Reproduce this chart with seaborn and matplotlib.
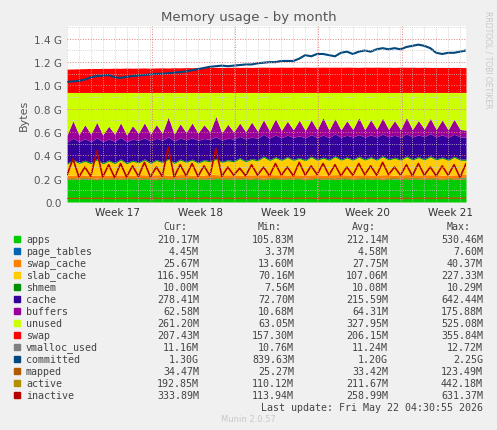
import numpy as np
import matplotlib
matplotlib.use('Agg')
import matplotlib.pyplot as plt
import seaborn as sns
from matplotlib.ticker import MultipleLocator, FuncFormatter

# half-day samples, values in MB (committed in GB)
apps = [200,198,205,196,202,199,204,197,201,200,203,198,206,199,202,201,204,196,200,203,205,199,202,198,
        207,200,203,201,205,197,202,200,204,199,206,201,203,198,205,200,202,199,204,197,203,201,206,200,
        202,198,205,199,203,200,204,197,202,201,206,199,203,200,205,198,202,201,204,210]
page_tables = [4.4,4.5,4.5,4.6,4.4,4.5,4.5,4.6,4.5,4.4,4.5,4.6,4.5,4.5,4.4,4.6,4.5,4.5,4.6,4.4,4.5,4.5,4.6,4.5,
               4.4,4.5,4.6,4.5,4.5,4.4,4.6,4.5,4.5,4.6,4.4,4.5,4.5,4.6,4.5,4.4,4.5,4.6,4.5,4.5,4.4,4.6,4.5,4.5,
               4.6,4.4,4.5,4.5,4.6,4.5,4.4,4.5,4.6,4.5,4.5,4.4,4.6,4.5,4.5,4.6,4.4,4.5,4.5,4.45]
swap_cache = [24,28,26,30,25,27,23,29,26,28,24,27,25,30,26,28,27,29,25,28,26,27,24,29,
              27,30,26,28,25,29,27,28,26,30,25,28,27,29,26,28,25,30,27,28,26,29,25,28,
              27,30,26,28,25,29,27,28,26,30,25,28,27,29,26,28,25,27,26,25.7]
slab_cache = [95,125,96,118,97,130,95,120,98,128,97,119,100,126,99,121,102,135,101,124,104,128,103,122,
              106,131,105,120,110,140,112,132,118,150,120,145,122,148,121,140,123,150,122,146,124,152,123,144,
              125,151,124,147,126,153,125,145,126,150,125,148,127,152,126,146,125,150,124,117]
shmem = [10.0,10.1,10.0,10.2,10.1,10.0,10.1,10.0,10.2,10.1,10.0,10.1,10.0,10.2,10.1,10.0,10.1,10.0,10.2,10.1,10.0,10.1,10.0,10.2,
         10.1,10.0,10.1,10.0,10.2,10.1,10.0,10.1,10.0,10.2,10.1,10.0,10.1,10.0,10.2,10.1,10.0,10.1,10.0,10.2,10.1,10.0,10.1,10.0,
         10.2,10.1,10.0,10.1,10.0,10.2,10.1,10.0,10.1,10.0,10.2,10.1,10.0,10.1,10.0,10.2,10.1,10.0,10.1,10.0]
cache = [180,182,178,184,181,179,183,180,182,185,179,181,184,180,183,182,181,185,183,180,184,182,186,181,
         183,185,182,184,186,183,185,182,184,187,183,186,185,184,188,185,187,184,186,189,185,187,188,186,
         189,185,188,187,190,186,189,188,187,190,188,186,189,191,187,190,188,189,191,190]
buffers = [60,150,58,120,62,135,57,110,60,125,59,115,61,130,58,118,62,170,60,122,63,128,61,119,
           64,175,62,120,60,115,63,130,61,125,64,140,62,120,65,135,63,128,66,150,64,132,62,125,
           65,145,63,130,66,138,64,126,65,140,63,124,66,132,64,128,65,130,63,60]
swap = [200,201,203,204,206,205,207,206,208,207,209,208,209,210,208,210,211,210,212,211,213,212,214,213,
        214,215,214,215,216,215,216,215,216,217,216,216,217,216,217,216,217,216,216,217,216,217,216,217,
        216,215,217,216,217,216,216,215,217,216,216,215,216,215,214,215,214,215,214,213]
committed = [1.03,1.035,1.04,1.05,1.07,1.08,1.085,1.09,1.07,1.065,1.075,1.08,1.085,1.09,1.095,1.10,1.10,1.105,1.11,1.115,1.12,1.13,1.14,1.15,
             1.16,1.165,1.17,1.165,1.17,1.175,1.18,1.18,1.19,1.195,1.20,1.20,1.21,1.21,1.21,1.23,1.26,1.25,1.27,1.27,1.26,1.25,1.28,1.29,
             1.27,1.29,1.30,1.29,1.31,1.32,1.31,1.32,1.31,1.33,1.34,1.35,1.34,1.32,1.28,1.27,1.28,1.28,1.29,1.30]
mapped = [30,32,31,33,30,34,31,32,30,33,31,35,32,33,31,34,30,33,32,34,31,33,30,35,
          32,34,31,33,30,34,32,33,31,35,32,34,31,33,30,34,32,33,31,35,32,34,31,33,
          30,34,32,33,31,35,32,34,31,33,30,34,32,33,31,35,32,34,33,34.5]
active = [195,200,192,205,198,190,200,196,202,194,199,205,193,201,197,190,203,196,200,192,198,204,195,199,
          193,206,197,200,192,203,198,194,201,190,197,205,193,199,196,202,190,198,204,195,200,193,197,206,
          192,199,203,195,200,190,198,205,194,199,196,202,193,200,197,190,201,195,194,193]
inactive = [230,370,215,300,220,440,215,320,210,330,215,310,220,340,215,300,220,470,215,320,225,330,220,310,
            225,460,220,300,230,290,225,320,230,300,225,330,230,300,225,340,230,310,235,330,230,320,225,300,
            230,330,235,310,230,340,235,300,230,320,225,330,230,300,225,310,230,320,210,330]
total_ram = 940

names = ['apps', 'page_tables', 'swap_cache', 'slab_cache', 'shmem', 'cache', 'buffers', 'unused',
         'swap', 'vmalloc_used', 'committed', 'mapped', 'active', 'inactive']
colors = ['#00CC00', '#0066B3', '#FF8000', '#FFCC00', '#008F00', '#330099', '#990099', '#CCFF00',
          '#FF0000', '#808080', '#00487D', '#B35A00', '#B38F00', '#B30000']
cur = ['210.17M', '4.45M', '25.67M', '116.95M', '10.00M', '278.41M', '62.58M', '261.20M', '207.43M',
       '11.16M', '1.30G', '34.47M', '192.85M', '333.89M']
mins = ['105.83M', '3.37M', '13.60M', '70.16M', '7.56M', '72.70M', '10.68M', '63.05M', '157.30M',
        '10.76M', '839.63M', '25.27M', '110.12M', '113.94M']
avgs = ['212.14M', '4.58M', '27.75M', '107.06M', '10.08M', '215.59M', '64.31M', '327.95M', '206.15M',
        '11.24M', '1.20G', '33.42M', '211.67M', '258.99M']
maxs = ['530.46M', '7.60M', '40.37M', '227.33M', '10.29M', '642.44M', '175.88M', '525.08M', '355.84M',
        '12.72M', '2.25G', '123.49M', '442.18M', '631.37M']
week_labels = ['Week 17', 'Week 18', 'Week 19', 'Week 20', 'Week 21']

sns.set_style('white')
plt.rcParams['font.family'] = ['DejaVu Sans']

days = np.arange(len(apps)) * 0.5
G = 1000.0
stack = [np.array(s, dtype=float) for s in (apps, page_tables, swap_cache, slab_cache, shmem, cache, buffers)]
used = np.sum(stack, axis=0)
stack.append(total_ram - used)      # unused
stack.append(np.array(swap, float))

fig = plt.figure(figsize=(4.97, 4.31), dpi=100, facecolor='#F0F0F0')
ax = fig.add_axes([67/497, 1-203/431, 399/497, 176/431])
ax.set_facecolor('white')

base = np.zeros(len(days))
for s, c in zip(stack, colors[:9]):
    ax.fill_between(days, base / G, (base + s) / G, color=c, lw=0)
    base = base + s

ax.plot(days, committed, color=colors[10], lw=1.5)
ax.plot(days, np.array(mapped) / G, color=colors[11], lw=1)
ax.plot(days, np.array(active) / G, color=colors[12], lw=1)
ax.plot(days, np.array(inactive) / G, color=colors[13], lw=1.2)

ax.set_xlim(0, days[-1])
ax.set_ylim(0, 1.51)
ax.yaxis.set_major_locator(MultipleLocator(0.2))
ax.yaxis.set_minor_locator(MultipleLocator(0.1))
ax.yaxis.set_major_formatter(FuncFormatter(lambda v, p: '0.0' if v == 0 else f'{v:.1f} G'))
bounds = [3.0 + 7 * k for k in range(5)]
ax.set_xticks([b + 1.2 for b in bounds[:5]])
ax.set_xticklabels(week_labels)
ax.set_xticks(np.arange(0, 34, 1.0), minor=True)
ax.tick_params(axis='both', labelsize=7.5, colors='#555555', length=0)
ax.tick_params(axis='x', labelcolor='#333333')
ax.grid(which='minor', color='#C8C8C8', ls=':', lw=0.6)
ax.grid(which='major', axis='y', color='#E08080', ls=':', lw=0.7)
for b in [7.1, 14.1, 21.1, 28.1]:
    ax.axvline(b, color='#E08080', ls=':', lw=0.7)
ax.set_axisbelow(False)
for sp in ax.spines.values():
    sp.set_visible(False)
ax.set_ylabel('Bytes', fontsize=8, color='#555555')
fig.text(0.5, 1 - 18/431, 'Memory usage - by month', ha='center', va='center', fontsize=9.5, color='#555555')
fig.text(488/497, 1 - 60/431, 'RRDTOOL / TOBI OETIKER', rotation=270, ha='center', va='center',
         fontsize=5.5, color='#C8C8C8')

mono = dict(family='DejaVu Sans Mono', fontsize=7.2, color='#444444', va='center')
cols = [199, 294, 388, 483]
for x, h in zip(cols, ['Cur:', 'Min:', 'Avg:', 'Max:']):
    fig.text((x - 12) / 497, 1 - 227/431, h, ha='right', **mono)
for i, n in enumerate(names):
    y = 1 - (240 + 12 * i) / 431
    fig.patches.append(plt.Rectangle((14/497, y - 3/431), 6/497, 6/431, color=colors[i],
                                     transform=fig.transFigure, figure=fig))
    fig.text(26/497, y, n, ha='left', **mono)
    for x, v in zip(cols, (cur[i], mins[i], avgs[i], maxs[i])):
        fig.text(x/497, y, v, ha='right', **mono)
fig.text(483/497, 1 - 408/431, 'Last update: Fri May 22 04:30:55 2026', ha='right', **mono)
fig.text(248/497, 1 - 420/431, 'Munin 2.0.57', ha='center', va='center', fontsize=6, color='#C8C8C8')

fig.savefig('out.png', dpi=100, facecolor=fig.get_facecolor())
